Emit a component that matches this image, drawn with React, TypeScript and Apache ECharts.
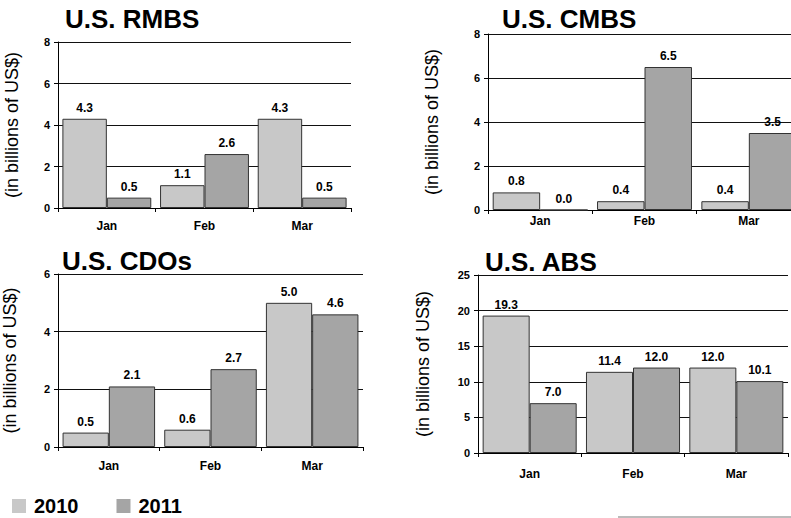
import React, { useEffect, useRef } from "react";
import * as echarts from "echarts";

const months = ["Jan", "Feb", "Mar"];
const seriesNames = ["2010", "2011"];

const rmbs2010 = [4.3, 1.1, 4.3];
const rmbs2011 = [0.5, 2.6, 0.5];
const cmbs2010 = [0.8, 0.4, 0.4];
const cmbs2011 = [0.0, 6.5, 3.5];
const cdos2010 = [0.5, 0.6, 5.0];
const cdos2011 = [2.1, 2.7, 4.6];
const abs2010 = [19.3, 11.4, 12.0];
const abs2011 = [7.0, 12.0, 10.1];

const titles = ["U.S. RMBS", "U.S. CMBS", "U.S. CDOs", "U.S. ABS"];
const yMax = [8, 8, 6, 25];
const yStep = [2, 2, 2, 5];
const yName = "(in billions of US$)";

const FONT = "'Liberation Sans', Arial, Helvetica, sans-serif";
const C2010 = "#c8c8c8";
const C2011 = "#a5a5a5";

export default function App() {
  const ref = useRef<HTMLDivElement>(null);
  useEffect(() => {
    if (!ref.current) return;
    const chart = echarts.init(ref.current, undefined, { renderer: "svg" });

    const grids = [
      { left: 58, top: 42, width: 293, height: 166 },
      { left: 488, top: 34, width: 313, height: 176 },
      { left: 54, top: 274, width: 309, height: 173 },
      { left: 478, top: 275, width: 310, height: 178 },
    ];
    const xMargins = [12, 5, 13, 15];
    const nameGaps = [37, 47, 39, 46];
    const titlePos = [
      { left: 65, top: 6 },
      { left: 502, top: 6 },
      { left: 62, top: 248 },
      { left: 485, top: 249 },
    ];
    const data = [
      [rmbs2010, rmbs2011],
      [cmbs2010, cmbs2011],
      [cdos2010, cdos2011],
      [abs2010, abs2011],
    ];

    const labelStyle = {
      show: true,
      position: "top" as const,
      distance: 5,
      fontFamily: FONT,
      fontWeight: "bold" as const,
      fontSize: 12,
      color: "#000",
      formatter: (p: any) => Number(p.value).toFixed(1),
    };

    const series: any[] = [];
    data.forEach((pair, gi) => {
      pair.forEach((vals, si) => {
        series.push({
          type: "bar",
          name: seriesNames[si],
          xAxisIndex: gi,
          yAxisIndex: gi,
          data: vals,
          barGap: "0%",
          barCategoryGap: "9%",
          itemStyle: {
            color: si === 0 ? C2010 : C2011,
            borderColor: "#333",
            borderWidth: 1,
          },
          label: labelStyle,
        });
      });
    });

    chart.setOption({
      animation: false,
      title: titles.map((t, i) => ({
        text: t,
        left: titlePos[i].left,
        top: titlePos[i].top,
        padding: 0,
        textStyle: {
          fontFamily: FONT,
          fontWeight: "bold",
          fontSize: 26,
          color: "#000",
        },
      })),
      legend: {
        left: 12,
        top: 496,
        itemWidth: 14,
        itemHeight: 14,
        itemGap: 38,
        icon: "rect",
        padding: 0,
        data: seriesNames,
        itemStyle: { borderWidth: 0 },
        textStyle: {
          fontFamily: FONT,
          fontWeight: "bold",
          fontSize: 20,
          lineHeight: 16,
          color: "#000",
          padding: [0, 0, 0, 3],
        },
      },
      grid: grids,
      xAxis: grids.map((_, i) => ({
        type: "category",
        gridIndex: i,
        data: months,
        axisLine: { lineStyle: { color: "#000", width: 1 } },
        axisTick: { show: true, length: 4, lineStyle: { color: "#000" } },
        axisLabel: {
          margin: xMargins[i],
          fontFamily: FONT,
          fontWeight: "bold",
          fontSize: 12,
          color: "#000",
        },
      })),
      yAxis: grids.map((_, i) => ({
        type: "value",
        gridIndex: i,
        min: 0,
        max: yMax[i],
        interval: yStep[i],
        name: yName,
        nameLocation: "middle",
        nameRotate: 90,
        nameGap: nameGaps[i],
        nameTextStyle: {
          fontFamily: FONT,
          fontSize: 18,
          color: "#000",
        },
        axisLine: { show: true, lineStyle: { color: "#000", width: 1 } },
        axisTick: { show: true, length: 4, lineStyle: { color: "#000" } },
        axisLabel: {
          margin: 8,
          fontFamily: FONT,
          fontWeight: "bold",
          fontSize: 11,
          color: "#000",
        },
        splitLine: { show: true, lineStyle: { color: "#111", width: 1 } },
      })),
      graphic: [
        {
          type: "line",
          shape: { x1: 618, y1: 517, x2: 791, y2: 517 },
          style: { stroke: "#bbbbbb", lineWidth: 2 },
        },
      ],
      series,
    });

    return () => chart.dispose();
  }, []);

  return (
    <div
      style={{
        position: "absolute",
        left: 0,
        top: 0,
        width: 791,
        height: 518,
        overflow: "hidden",
        background: "#fff",
      }}
    >
      <div ref={ref} style={{ width: 830, height: 518 }} />
    </div>
  );
}
